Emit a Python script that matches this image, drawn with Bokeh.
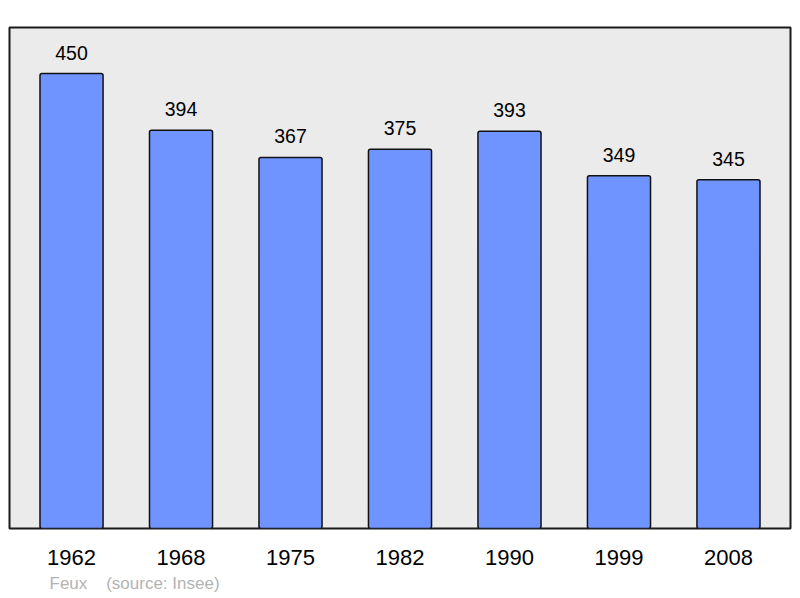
from bokeh.plotting import figure
from bokeh.models import FactorRange, Range1d, ColumnDataSource, Title
from bokeh.core.properties import value
from bokeh.embed import file_html
from bokeh.resources import INLINE

years = ["1962", "1968", "1975", "1982", "1990", "1999", "2008"]
feux = [450, 394, 367, 375, 393, 349, 345]
footer = "Feux\u00a0\u00a0\u00a0\u00a0(source: Insee)"

src = ColumnDataSource(dict(x=years, y=feux, lab=[str(v) for v in feux]))

p = figure(x_range=FactorRange(*years, range_padding=0.019),
           y_range=Range1d(0, 495.5),
           width=796, height=598,
           output_backend="svg", toolbar_location=None,
           min_border_left=9, min_border_right=6, min_border_top=27, min_border_bottom=70)

p.background_fill_color = "#ebebeb"
p.border_fill_color = "white"
p.outline_line_color = "#1a1a1a"
p.outline_line_width = 2
p.xgrid.visible = False
p.ygrid.visible = False
p.yaxis.visible = False

ax = p.xaxis[0]
ax.axis_line_color = None
ax.major_tick_line_color = None
ax.minor_tick_line_color = None
ax.major_label_text_font = "Liberation Sans"
ax.major_label_text_font_size = "22px"
ax.major_label_text_color = "black"
ax.major_label_standoff = 15

p.vbar(x="x", top="y", width=0.576, source=src, fill_color="#7094ff",
       line_color="#111111", line_width=1.5, border_radius=2)

p.text(x="x", y="y", text="lab", source=src, text_align="center",
       text_baseline="alphabetic", y_offset=-21,
       text_font=value("Liberation Sans"), text_font_size="19.5px", text_color="black")

p.add_layout(Title(text=footer, align="left", offset=40, standoff=9,
                   text_font="Liberation Sans", text_font_size="17px",
                   text_font_style="normal", text_color="#b3b3b3"), "below")

open("out.html", "w").write(file_html(p, INLINE))
